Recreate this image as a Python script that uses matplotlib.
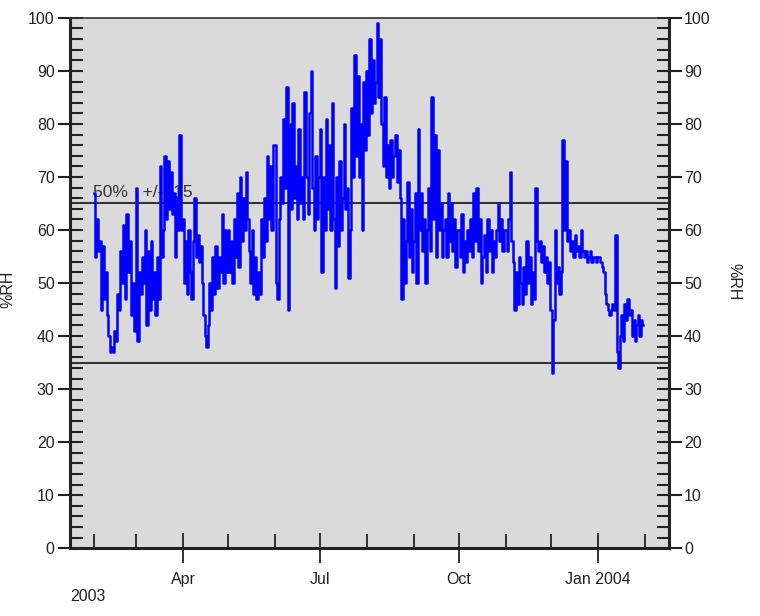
import numpy as np
import matplotlib
matplotlib.use('Agg')
import matplotlib.pyplot as plt
import matplotlib.dates as mdates
import matplotlib.patheffects as pe

plt.rcParams['font.family'] = ['Liberation Sans', 'DejaVu Sans']

# daily %RH readings (Feb 2003 - Jan 2004)
rh_feb = [67, 55, 62, 56, 58, 45, 57, 47, 52, 44, 40, 37, 38, 37, 41, 39, 48, 45, 56, 50,
          61, 47, 63, 52, 58, 44, 50, 41]
rh_mar = [68, 39, 52, 48, 55, 50, 60, 42, 56, 45, 58, 47, 52, 44, 55, 47, 72, 55, 60, 74,
          62, 73, 64, 71, 63, 67, 55, 66, 60, 78, 60]
rh_apr = [62, 50, 58, 48, 60, 52, 47, 58, 66, 55, 59, 54, 57, 50, 44, 40, 38, 42, 50, 45,
          55, 48, 57, 49, 55, 52, 63, 50, 60, 52]
rh_may = [60, 52, 58, 50, 62, 55, 67, 53, 70, 58, 66, 60, 71, 62, 56, 50, 60, 48, 55, 47,
          52, 48, 62, 55, 66, 58, 74, 62, 72, 60, 76]
rh_jun = [76, 50, 47, 62, 70, 65, 81, 68, 87, 45, 80, 64, 84, 66, 72, 62, 79, 65, 70, 62,
          86, 70, 63, 82, 90, 68, 60, 74, 62, 70]
rh_jul = [79, 52, 70, 60, 81, 64, 76, 60, 84, 62, 49, 70, 57, 73, 60, 66, 80, 64, 68, 51,
          60, 83, 70, 93, 74, 89, 70, 80, 60, 88, 75]
rh_aug = [90, 78, 96, 82, 92, 84, 88, 99, 85, 96, 80, 72, 85, 70, 76, 68, 77, 70, 74, 78,
          69, 75, 66, 47, 62, 50, 58, 69, 55, 64, 52]
rh_sep = [58, 67, 50, 79, 60, 67, 56, 62, 50, 60, 68, 56, 85, 62, 78, 55, 75, 60, 65, 55,
          60, 62, 55, 67, 58, 65, 56, 62, 53, 60]
rh_oct = [60, 55, 63, 52, 58, 54, 60, 56, 62, 55, 67, 58, 68, 56, 62, 50, 55, 59, 52, 62,
          56, 60, 52, 58, 55, 60, 65, 58, 62, 56, 60]
rh_nov = [60, 56, 62, 71, 58, 54, 45, 52, 46, 55, 50, 46, 53, 48, 58, 50, 55, 46, 52, 47,
          68, 58, 56, 58, 54, 57, 52, 55, 50, 54]
rh_dec = [45, 33, 43, 60, 50, 53, 48, 52, 77, 60, 73, 58, 60, 56, 58, 55, 59, 56, 57, 55,
          60, 56, 55, 56, 54, 55, 56, 54, 55, 55, 54]
rh_jan = [55, 55, 54, 53, 52, 48, 46, 45, 44, 45, 46, 45, 59, 37, 34, 40, 44, 39, 46, 43,
          47, 44, 45, 40, 43, 39, 42, 44, 40, 43, 42]

months = ['2003-02', '2003-03', '2003-04', '2003-05', '2003-06', '2003-07',
          '2003-08', '2003-09', '2003-10', '2003-11', '2003-12', '2004-01']
monthly = [rh_feb, rh_mar, rh_apr, rh_may, rh_jun, rh_jul,
           rh_aug, rh_sep, rh_oct, rh_nov, rh_dec, rh_jan]

limit_hi = 65
limit_lo = 35
limit_text = '50%   +/-  15'

major_dates = ['2003-04-01', '2003-07-01', '2003-10-01', '2004-01-01']
major_labels = ['Apr', 'Jul', 'Oct', 'Jan 2004']

# build the time axis: one reading per day inside each month
dates = []
values = []
for m, vals in zip(months, monthly):
    start = np.datetime64(m + '-01')
    dates.extend(start + np.arange(len(vals)))
    values.extend(vals)
dates = np.array(dates, dtype='datetime64[D]')
values = np.array(values, dtype=float)

fig = plt.figure(figsize=(7.6, 6.16), dpi=100)
ax = fig.add_axes([0.092, 0.110, 0.788, 0.861])
ax.set_facecolor('#dadada')

ax.axhline(limit_hi, color='#333333', lw=1.5, zorder=1)
ax.axhline(limit_lo, color='#333333', lw=1.5, zorder=1)
ax.text(np.datetime64('2003-01-31'), limit_hi + 0.6, limit_text, fontsize=12.5,
        color='#333333', va='bottom', ha='left', zorder=1)

ax.plot(dates, values, color='#0000ff', lw=1.8, drawstyle='steps-mid', zorder=3)

ax.set_ylim(0, 100)
ax.set_xlim(np.datetime64('2003-01-16'), np.datetime64('2004-02-17'))

ax.yaxis.set_major_locator(plt.MultipleLocator(10))
ax.yaxis.set_minor_locator(plt.MultipleLocator(2))
ax.xaxis.set_major_locator(plt.FixedLocator(mdates.datestr2num(major_dates)))
ax.xaxis.set_major_formatter(plt.FixedFormatter(major_labels))
ax.xaxis.set_minor_locator(mdates.MonthLocator())

ax.tick_params(axis='y', which='major', direction='inout', length=18, width=1.5,
               left=True, right=True, labelleft=True, labelright=True,
               labelsize=11.5, colors='#222222', pad=2)
ax.tick_params(axis='y', which='minor', direction='in', length=9, width=1.5,
               left=True, right=True, color='#222222')
ax.tick_params(axis='x', which='major', direction='inout', length=22, width=1.3,
               labelsize=11.5, colors='#222222', pad=6)
ax.tick_params(axis='x', which='minor', direction='in', length=10, width=1.3,
               color='#222222')

shadow = [pe.SimplePatchShadow(offset=(2, -2), shadow_rgbFace='#888888'), pe.Normal()]
for side in ['left', 'bottom', 'right']:
    ax.spines[side].set_linewidth(2.2)
    ax.spines[side].set_color('#222222')
    ax.spines[side].set_path_effects(shadow)
ax.spines['top'].set_linewidth(1.2)
ax.spines['top'].set_color('#333333')

fig.text(0.092, 0.02, '2003', fontsize=11.5, color='#222222', ha='left', va='bottom')
fig.text(0.0, 0.53, '%RH', fontsize=11.5, color='#222222', rotation=90,
         ha='left', va='center')
fig.text(0.966, 0.542, '%RH', fontsize=11.5, color='#222222', rotation=270,
         ha='center', va='center')

fig.savefig('out.png', dpi=100)
